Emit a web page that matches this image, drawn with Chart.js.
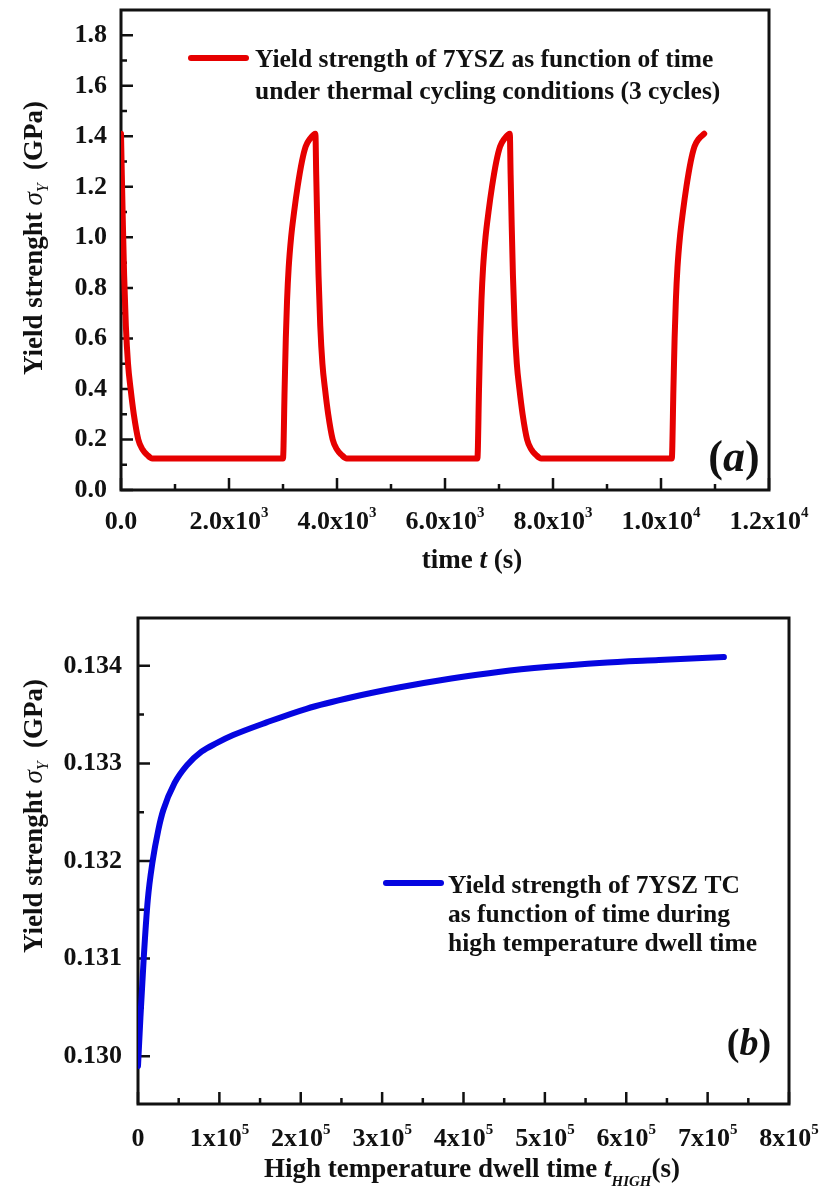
<!DOCTYPE html>
<html><head><meta charset="utf-8">
<script src="https://cdn.jsdelivr.net/npm/chart.js@4.4.0/dist/chart.umd.min.js"></script>
<style>
html,body{margin:0;padding:0;background:#fff;}
canvas{position:absolute;left:0;}
#ca{top:0;} #cb{top:590px;}
</style>
</head><body>
<canvas id="ca" width="824" height="590"></canvas>
<canvas id="cb" width="824" height="606"></canvas>
<script>
// ---------- Panel (a) data ----------
const timeA = [0,15,35,58,90,130,178,237,320,400,480,580,
  3000,3030,3052,3075,3105,3150,3205,3270,3350,3420,3500,3600,
  3615,3635,3658,3690,3730,3778,3837,3920,4000,4080,4180,
  6600,6630,6652,6675,6705,6750,6805,6870,6950,7020,7100,7200,
  7215,7235,7258,7290,7330,7378,7437,7520,7600,7680,7780,
  10200,10230,10252,10275,10305,10350,10405,10470,10550,10620,10700,10800];
const strengthA = [1.41,1.25,1.05,0.85,0.65,0.50,0.40,0.30,0.20,0.16,0.14,0.125,
  0.125,0.40,0.60,0.75,0.88,1.00,1.10,1.20,1.30,1.36,1.39,1.41,
  1.25,1.05,0.85,0.65,0.50,0.40,0.30,0.20,0.16,0.14,0.125,
  0.125,0.40,0.60,0.75,0.88,1.00,1.10,1.20,1.30,1.36,1.39,1.41,
  1.25,1.05,0.85,0.65,0.50,0.40,0.30,0.20,0.16,0.14,0.125,
  0.125,0.40,0.60,0.75,0.88,1.00,1.10,1.20,1.30,1.36,1.39,1.41];
const xTicksA = [0,2000,4000,6000,8000,10000,12000];
const xTickBaseA = ['0.0','2.0x10','4.0x10','6.0x10','8.0x10','1.0x10','1.2x10'];
const xTickSupA = ['','3','3','3','3','4','4'];
const xMinorA = [1000,3000,5000,7000,9000,11000];
const yTicksA = [0,0.2,0.4,0.6,0.8,1.0,1.2,1.4,1.6,1.8];
const yTickLabelsA = ['0.0','0.2','0.4','0.6','0.8','1.0','1.2','1.4','1.6','1.8'];
const yMinorA = [0.1,0.3,0.5,0.7,0.9,1.1,1.3,1.5,1.7];
const legendA = ['Yield strength of 7YSZ as function of time','under thermal cycling conditions (3 cycles)'];

// ---------- Panel (b) data ----------
const timeB = [0,3000,7000,12000,18000,25000,31000,45000,60000,78000,97000,117000,158000,207000,264000,322000,385000,445000,505000,567000,640000,720000];
const strengthB = [0.12990,0.13040,0.13100,0.13160,0.13200,0.13232,0.13252,0.13280,0.13298,0.13312,0.13321,0.13329,0.13342,0.13356,0.13368,0.13378,0.13387,0.13394,0.13399,0.13403,0.13406,0.13409];
const xTicksB = [0,100000,200000,300000,400000,500000,600000,700000,800000];
const xTickBaseB = ['0','1x10','2x10','3x10','4x10','5x10','6x10','7x10','8x10'];
const xTickSupB = ['','5','5','5','5','5','5','5','5'];
const xMinorB = [50000,150000,250000,350000,450000,550000,650000,750000];
const yTicksB = [0.130,0.131,0.132,0.133,0.134];
const yTickLabelsB = ['0.130','0.131','0.132','0.133','0.134'];
const yMinorB = [0.1305,0.1315,0.1325,0.1335];
const legendB = ['Yield strength of 7YSZ TC','as function of time during','high temperature dwell time'];

const FF = '"Liberation Serif","Times New Roman",serif';
const INK = '#111';

function drawParts(ctx, parts, cx, cy){
  let total = 0;
  parts.forEach(p => { ctx.font = p.f; p.w = ctx.measureText(p.t).width; total += p.w; });
  let x = cx - total/2;
  ctx.textAlign = 'left'; ctx.textBaseline = 'alphabetic';
  parts.forEach(p => { ctx.font = p.f; ctx.fillText(p.t, x, cy + (p.dy||0)); x += p.w; });
}

function makePanel(id, cfg){
  const deco = {
    id: 'deco'+id,
    beforeDatasetsDraw(chart){
      const ctx = chart.ctx, a = chart.chartArea, xs = chart.scales.x, ys = chart.scales.y;
      ctx.save();
      ctx.strokeStyle = INK; ctx.lineWidth = 3;
      ctx.strokeRect(a.left, a.top, a.right-a.left, a.bottom-a.top);
      ctx.lineWidth = 2.5;
      ctx.beginPath();
      cfg.xTicks.forEach(v => { const px = xs.getPixelForValue(v); ctx.moveTo(px, a.bottom); ctx.lineTo(px, a.bottom-12); });
      cfg.xMinor.forEach(v => { const px = xs.getPixelForValue(v); ctx.moveTo(px, a.bottom); ctx.lineTo(px, a.bottom-6); });
      cfg.yTicks.forEach(v => { const py = ys.getPixelForValue(v); ctx.moveTo(a.left, py); ctx.lineTo(a.left+12, py); });
      cfg.yMinor.forEach(v => { const py = ys.getPixelForValue(v); ctx.moveTo(a.left, py); ctx.lineTo(a.left+6, py); });
      ctx.stroke();
      ctx.restore();
    },
    afterDraw(chart){
      const ctx = chart.ctx, a = chart.chartArea, xs = chart.scales.x, ys = chart.scales.y;
      ctx.save();
      ctx.fillStyle = INK;
      ctx.font = 'bold 26px ' + FF; ctx.textAlign = 'right'; ctx.textBaseline = 'middle';
      cfg.yTicks.forEach((v,i) => ctx.fillText(cfg.yLabels[i], a.left - cfg.yLabelGap, ys.getPixelForValue(v)));
      cfg.xTicks.forEach((v,i) => {
        const px = xs.getPixelForValue(v);
        const parts = [{t: cfg.xBase[i], f: 'bold 26px ' + FF}];
        if (cfg.xSup[i]) parts.push({t: cfg.xSup[i], f: 'bold 15px ' + FF, dy: -12});
        drawParts(ctx, parts, px, cfg.xLabelY);
      });
      ctx.save();
      ctx.translate(cfg.yTitle[0], cfg.yTitle[1]);
      ctx.rotate(-Math.PI/2);
      drawParts(ctx, [
        {t: 'Yield strenght ', f: 'bold 27px ' + FF},
        {t: 'σ', f: 'italic 27px ' + FF},
        {t: 'Y', f: 'italic 16px ' + FF, dy: 6},
        {t: '  (GPa)', f: 'bold 27px ' + FF}
      ], 0, 9);
      ctx.restore();
      drawParts(ctx, cfg.xTitleParts, cfg.xTitle[0], cfg.xTitle[1]);
      const L = cfg.legend;
      ctx.strokeStyle = cfg.color; ctx.lineWidth = 6; ctx.lineCap = 'round';
      ctx.beginPath(); ctx.moveTo(L.x0, L.y); ctx.lineTo(L.x1, L.y); ctx.stroke();
      ctx.font = 'bold 25.5px ' + FF; ctx.textAlign = 'left'; ctx.textBaseline = 'middle';
      cfg.legendLines.forEach((s,i) => ctx.fillText(s, L.tx, L.ty + i*L.dy));
      drawParts(ctx, cfg.tagParts, cfg.tag[0], cfg.tag[1]);
      ctx.restore();
    }
  };
  return new Chart(document.getElementById(id), {
    type: 'line',
    data: { datasets: [{
      label: cfg.legendLines.join(' '),
      data: cfg.xs.map((x,i) => ({x: x, y: cfg.ys[i]})),
      borderColor: cfg.color, borderWidth: 6, pointRadius: 0,
      cubicInterpolationMode: 'monotone', fill: false, borderJoinStyle: 'round', borderCapStyle: 'round'
    }]},
    options: {
      responsive: false, animation: false, devicePixelRatio: 1,
      layout: { padding: cfg.pad },
      plugins: { legend: {display: false}, title: {display: false}, tooltip: {enabled: false} },
      scales: {
        x: { type: 'linear', min: cfg.xmin, max: cfg.xmax, display: false },
        y: { type: 'linear', min: cfg.ymin, max: cfg.ymax, display: false }
      }
    },
    plugins: [deco]
  });
}

makePanel('ca', {
  xs: timeA, ys: strengthA, color: '#e60000',
  xmin: 0, xmax: 12000, ymin: 0, ymax: 1.9,
  pad: {left: 121, right: 55, top: 10, bottom: 100},
  xTicks: xTicksA, xMinor: xMinorA, yTicks: yTicksA, yMinor: yMinorA,
  yLabels: yTickLabelsA, xBase: xTickBaseA, xSup: xTickSupA,
  yLabelGap: 14, xLabelY: 529,
  yTitle: [33, 238],
  xTitle: [472, 568],
  xTitleParts: [{t: 'time ', f: 'bold 27px ' + FF}, {t: 't', f: 'bold italic 27px ' + FF}, {t: ' (s)', f: 'bold 27px ' + FF}],
  legend: {x0: 191, x1: 246, y: 58, tx: 255, ty: 60, dy: 32},
  legendLines: legendA,
  tag: [734, 471],
  tagParts: [{t: '(', f: 'bold 44px ' + FF}, {t: 'a', f: 'bold italic 44px ' + FF}, {t: ')', f: 'bold 44px ' + FF}]
});

makePanel('cb', {
  xs: timeB, ys: strengthB, color: '#0505e0',
  xmin: 0, xmax: 800000, ymin: 0.12951, ymax: 0.13449,
  pad: {left: 138, right: 35, top: 28, bottom: 92},
  xTicks: xTicksB, xMinor: xMinorB, yTicks: yTicksB, yMinor: yMinorB,
  yLabels: yTickLabelsB, xBase: xTickBaseB, xSup: xTickSupB,
  yLabelGap: 16, xLabelY: 556,
  yTitle: [33, 226],
  xTitle: [472, 587],
  xTitleParts: [{t: 'High temperature dwell time ', f: 'bold 27px ' + FF}, {t: 't', f: 'bold italic 27px ' + FF},
    {t: 'HIGH', f: 'bold italic 15px ' + FF, dy: 9}, {t: '(s)', f: 'bold 27px ' + FF}],
  legend: {x0: 386, x1: 441, y: 293, tx: 448, ty: 296, dy: 29},
  legendLines: legendB,
  tag: [749, 465],
  tagParts: [{t: '(', f: 'bold 38px ' + FF}, {t: 'b', f: 'bold italic 38px ' + FF}, {t: ')', f: 'bold 38px ' + FF}]
});
</script>
</body></html>
